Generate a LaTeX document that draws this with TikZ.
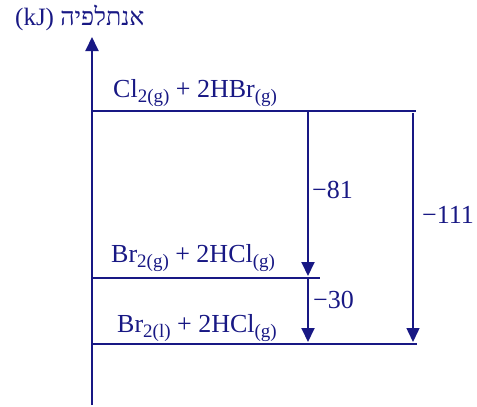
\documentclass[tikz,border=0pt]{standalone}
\usepackage{fontspec}
\setmainfont{Liberation Serif}
\newfontfamily\hebfont[Script=Hebrew]{Liberation Serif}
\TeXXeTstate=1
\usepackage{tikz}
\usetikzlibrary{arrows.meta}
\definecolor{navy}{RGB}{24,24,132}
\newcommand{\chsub}[1]{\raisebox{-5pt}{\fontsize{19}{19}\selectfont #1}}

\begin{document}
\begin{tikzpicture}[x=1pt,y=-1pt,>={Triangle[length=14pt,width=13pt]},
  level/.style={navy,line width=1.9pt},
  dh/.style={navy,line width=1.9pt,->},
  txt/.style={navy,anchor=base west,inner sep=0pt,font=\fontsize{26}{28}\selectfont}]
  \useasboundingbox (0,0) rectangle (477,407);
  % axis
  \coordinate (o) at (92,405);
  \coordinate (ytop) at (92,37);
  \draw[dh] (o)--(ytop);
  \node[txt,font=\fontsize{25}{27}\selectfont] (ylabel) at (15,25)
    {(kJ) {\hebfont\beginR אנתלפיה\endR}};

  % levels
  \coordinate (r0) at (92,111);  \coordinate (r1) at (416,111);
  \coordinate (m0) at (92,278);  \coordinate (m1) at (320,278);
  \coordinate (p0) at (92,344);  \coordinate (p1) at (417,344);
  \draw[level] (r0)--(r1);
  \draw[level] (m0)--(m1);
  \draw[level] (p0)--(p1);
  \node[txt] (reac) at (113,97) {Cl\chsub{2(g)} + 2HBr\chsub{(g)}};
  \node[txt] (mid) at (111,262) {Br\chsub{2(g)} + 2HCl\chsub{(g)}};
  \node[txt] (prod) at (117,332) {Br\chsub{2(l)} + 2HCl\chsub{(g)}};

  % enthalpy steps
  \coordinate (a0) at (308,111); \coordinate (a1) at (308,276);
  \coordinate (b0) at (308,278); \coordinate (b1) at (308,342);
  \coordinate (c0) at (413,113); \coordinate (c1) at (413,342);
  \draw[dh] (a0)--(a1);
  \draw[dh] (b0)--(b1);
  \draw[dh,line width=1.5pt] (c0)--(c1);
  \node[txt] (dh1) at (312,198) {\textminus81};
  \node[txt] (dh2) at (313,308) {\textminus30};
  \node[txt] (dhtot) at (422,223) {\textminus111};
\end{tikzpicture}
\end{document}
